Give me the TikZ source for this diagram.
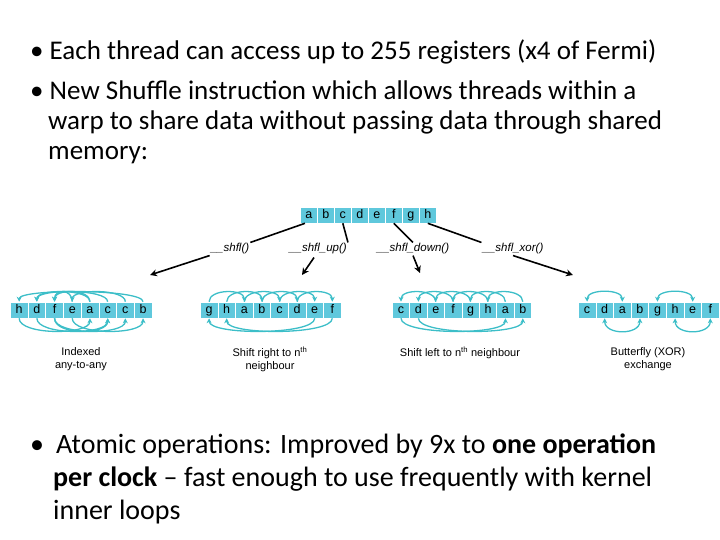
\documentclass[tikz,border=0pt]{standalone}
\usepackage{fontspec}
\setmainfont{Carlito}
\newfontfamily\arialf{Liberation Sans}
\usetikzlibrary{arrows.meta}
\definecolor{cellfill}{RGB}{95,200,220}
\definecolor{arc}{RGB}{60,190,200}
\tikzset{
 cellbox/.style={draw=white,line width=0.6pt,fill=cellfill,minimum width=17pt,minimum height=16pt,inner sep=0pt,text height=9pt,text depth=2.5pt,font=\arialf\fontsize{12.5}{12.5}\selectfont,anchor=west},
 arcl/.style={draw=arc,line width=1.3pt,-{Stealth[length=5pt,width=5pt]}},
 arcd/.style={draw=arc,line width=1.3pt,{Stealth[length=5pt,width=5pt]}-{Stealth[length=5pt,width=5pt]}},
 blk/.style={line width=1.6pt,black},
 blka/.style={line width=1.6pt,black,-{Stealth[length=7pt,width=7pt]}},
 fn/.style={font=\arialf\itshape\fontsize{11.5}{11.5}\selectfont,inner sep=1pt},
 captxt/.style={font=\arialf\fontsize{11}{13}\selectfont,align=center},
 bul/.style={anchor=north west,font=\fontsize{27}{30}\selectfont,align=left,inner sep=0pt}
}
\newcommand{\arcup}[3]{\draw[#1] (#2.north) .. controls +(0,-13) and +(0,-13) .. (#3.north);}
\newcommand{\arcdn}[3]{\draw[#1] (#2.south) .. controls +(0,17) and +(0,17) .. (#3.south);}
\begin{document}
\begin{tikzpicture}[x=1pt,y=-1pt]
\useasboundingbox (0,0) rectangle (720,540);
% text
\node[bul] (b1) at (30,40) {\textbullet\ Each thread can access up to 255 registers (x4 of Fermi)};
\node[bul] (b2) at (30,81) {\textbullet\ New Shuffle instruction which allows threads within a\\\hspace*{18pt}warp to share data without passing data through shared\\\hspace*{18pt}memory:};
\node[bul,font=\fontsize{28}{33}\selectfont] (b3) at (30,434) {\textbullet\hspace*{12pt}Atomic operations: Improved by 9x to \textbf{one operation}\\\hspace*{23pt}\textbf{per clock} -- fast enough to use frequently with kernel\\\hspace*{23pt}inner loops};
% arrays
\newcommand{\mkarr}[4]{\foreach \c [count=\i] in {#4} {\node[cellbox,minimum width=#3pt] (#1\i) at ({#2+(\i-1)*#3},0) {\c};}}
\begin{scope}[yshift=-215pt]\mkarr{T}{300}{17}{a,b,c,d,e,f,g,h}\end{scope}
\begin{scope}[yshift=-310pt]
\mkarr{P}{10}{17.7}{h,d,f,e,a,c,c,b}
\mkarr{Q}{200}{17.6}{g,h,a,b,c,d,e,f}
\mkarr{R}{392}{17.4}{c,d,e,f,g,h,a,b}
\mkarr{S}{578}{17.6}{c,d,a,b,g,h,e,f}
\end{scope}
% function labels
\node[fn] (f1) at (230,249) {\_\_shfl()};
\node[fn] (f2) at (318,249) {\_\_shfl\_up()};
\node[fn] (f3) at (413,249) {\_\_shfl\_down()};
\node[fn] (f4) at (513,249) {\_\_shfl\_xor()};
\coordinate (e1) at (150,275);
\coordinate (e2) at (302,275);
\coordinate (e3) at (420,273);
\coordinate (e4) at (573,275);
\draw[blk] (T1.south west) ++(5,0) coordinate (s1) -- (f1.north east);
\draw[blka] (f1.south west) -- (e1);
\draw[blk] (T3.south) -- (f2.north east);
\draw[blka] (f2.south) ++(-4,2) -- (e2);
\draw[blk] (T6.south) -- (f3.north);
\draw[blka] (f3.south) -- (e3);
\draw[blk] (T8.south) -- (f4.north west);
\draw[blka] (f4.south) -- (e4);
% arcs array 1
\foreach \a/\b in {8/1,6/2,5/3,4/3,7/4,5/2}{\arcup{arcl}{P\a}{P\b}}
\foreach \a/\b in {1/5,2/6,3/7,4/8,3/6}{\arcdn{arcl}{P\a}{P\b}}
% array 2
\foreach \a/\b in {1/3,2/4,3/5,4/6,5/7,6/8}{\arcup{arcl}{Q\a}{Q\b}}
\foreach \a/\b in {7/1,8/2}{\arcdn{arcl}{Q\a}{Q\b}}
% array 3
\foreach \a/\b in {3/1,4/2,5/3,6/4,7/5,8/6}{\arcup{arcl}{R\a}{R\b}}
\foreach \a/\b in {1/7,2/8}{\arcdn{arcl}{R\a}{R\b}}
% array 4
\foreach \a/\b in {1/3,5/7}{\arcup{arcd}{S\a}{S\b}}
\foreach \a/\b in {2/4,6/8}{\arcdn{arcd}{S\a}{S\b}}
% captions
\node[captxt] (c1) at (81,359) {Indexed\\any-to-any};
\node[captxt] (c2) at (270,359) {Shift right to n\textsuperscript{th}\\neighbour};
\node[captxt] (c3) at (460,353) {Shift left to n\textsuperscript{th} neighbour};
\node[captxt] (c4) at (648,359) {Butterfly (XOR)\\exchange};
\end{tikzpicture}
\end{document}
